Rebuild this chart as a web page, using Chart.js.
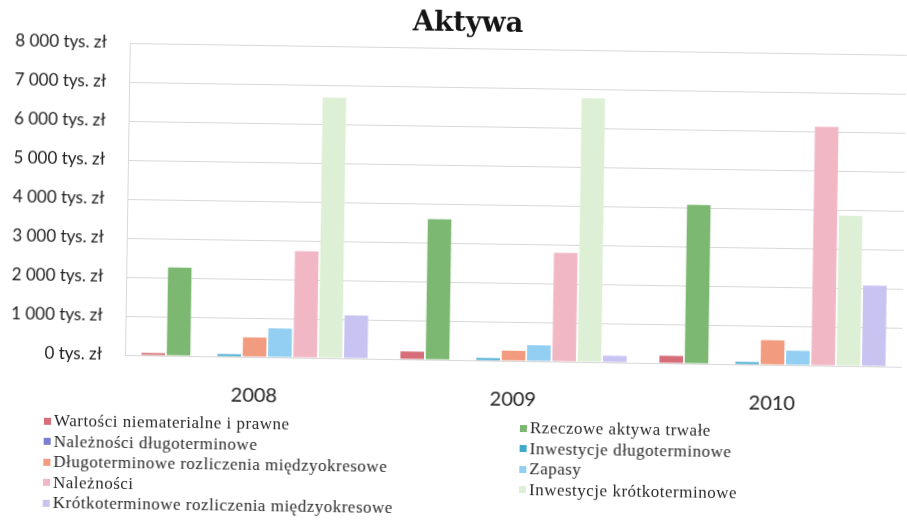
<!DOCTYPE html>
<html lang="pl">
<head>
<meta charset="utf-8">
<title>Aktywa</title>
<script src="https://cdn.jsdelivr.net/npm/chart.js@4.4.1/dist/chart.umd.min.js"></script>
<style>
  html, body { margin: 0; padding: 0; background: #fff; }
  #page { position: relative; width: 907px; height: 526px; overflow: hidden; background: #fff; }
  /* the whole sheet sits slightly tilted, like the printed page */
  #sheet { position: absolute; left: 0; top: 0; width: 907px; height: 526px;
           transform: rotate(0.87deg); transform-origin: 125px 355px; }
  #sheet canvas { position: absolute; left: 0; top: 0; }
  .legend-col { position: absolute; top: 412px; list-style: none; margin: 0; padding: 0;
                font-family: "Liberation Serif", serif; font-size: 17px; letter-spacing: 0.5px; color: #2a2a2a; }
  .legend-col li { height: 20.5px; line-height: 20.5px; white-space: nowrap; }
  .legend-col i { display: inline-block; width: 7px; height: 7px; margin-right: 3px;
                  vertical-align: middle; position: relative; top: -1px; }
</style>
</head>
<body>
<div id="page">
  <div id="sheet">
    <canvas id="aktywa" width="907" height="526"></canvas>
    <ul class="legend-col" id="legend-left" style="left:45px"></ul>
    <ul class="legend-col" id="legend-right" style="left:521px"></ul>
  </div>
</div>
<script>
const years = ['2008', '2009', '2010'];

// wartości w tys. zł
const wartosciNiematerialne = [60, 200, 190];
const rzeczoweAktywa = [2260, 3600, 4070];
const naleznosciDlugo = [0, 0, 0];
const inwestycjeDlugo = [60, 60, 60];
const rozliczeniaDlugo = [500, 260, 630];
const zapasy = [740, 410, 370];
const naleznosci = [2730, 2790, 6120];
const inwestycjeKrotko = [6680, 6760, 3850];
const rozliczeniaKrotko = [1100, 170, 2070];

const seriesNames = [
    'Wartości niematerialne i prawne',
    'Rzeczowe aktywa trwałe',
    'Należności długoterminowe',
    'Inwestycje długoterminowe',
    'Długoterminowe rozliczenia międzyokresowe',
    'Zapasy',
    'Należności',
    'Inwestycje krótkoterminowe',
    'Krótkoterminowe rozliczenia międzyokresowe'
];
const seriesValues = [
    wartosciNiematerialne, rzeczoweAktywa, naleznosciDlugo, inwestycjeDlugo,
    rozliczeniaDlugo, zapasy, naleznosci, inwestycjeKrotko, rozliczeniaKrotko
];
const seriesColors = [
    '#d66d78', '#7db872', '#7a7fcf', '#3fa8cc',
    '#f29b7e', '#93cff2', '#f2b7c5', '#ddf0d5', '#c9c3f2'
];

const yMax = 8000;
const yStep = 1000;
const unit = ' tys. zł';

function formatTick(v) {
    return String(v).replace(/\B(?=(\d{3})+(?!\d))/g, ' ') + unit;
}

// title sits a little right of the canvas centre
const titleShift = {
    id: 'titleShift',
    afterLayout(chart) {
        chart.titleBlock.left += 20;
    }
};

const chart = new Chart(document.getElementById('aktywa'), {
    type: 'bar',
    data: {
        labels: years,
        datasets: seriesNames.map((name, i) => ({
            label: name,
            data: seriesValues[i],
            backgroundColor: seriesColors[i],
            borderWidth: 0
        }))
    },
    plugins: [titleShift],
    options: {
        responsive: false,
        animation: false,
        layout: { padding: { left: 4, right: 5, top: 0, bottom: 93 } },
        datasets: { bar: { categoryPercentage: 0.88, barPercentage: 0.93 } },
        plugins: {
            legend: { display: false },
            tooltip: { enabled: false },
            title: {
                display: true,
                text: 'Aktywa',
                color: '#151515',
                font: { family: 'DejaVu Serif', size: 27.5, weight: 'bold' },
                padding: { top: 2, bottom: 8 }
            }
        },
        scales: {
            x: {
                grid: { display: false, drawTicks: false },
                border: { display: false },
                ticks: { padding: 27, color: '#222', font: { family: 'Lato', size: 20 } }
            },
            y: {
                min: 0,
                max: yMax,
                afterFit: s => { s.width = 121; },
                grid: { color: '#d8d8d8', drawTicks: false },
                border: { color: '#d8d8d8' },
                ticks: {
                    stepSize: yStep,
                    padding: 23,
                    color: '#222',
                    font: { family: 'Lato', size: 17 },
                    callback: formatTick
                }
            }
        }
    }
});

// legenda w dwóch kolumnach
const left = document.getElementById('legend-left');
const right = document.getElementById('legend-right');
chart.data.datasets.forEach((ds, i) => {
    const li = document.createElement('li');
    li.innerHTML = `<i style="background:${ds.backgroundColor}"></i>${ds.label}`;
    (i % 2 === 0 ? left : right).appendChild(li);
});
</script>
</body>
</html>
